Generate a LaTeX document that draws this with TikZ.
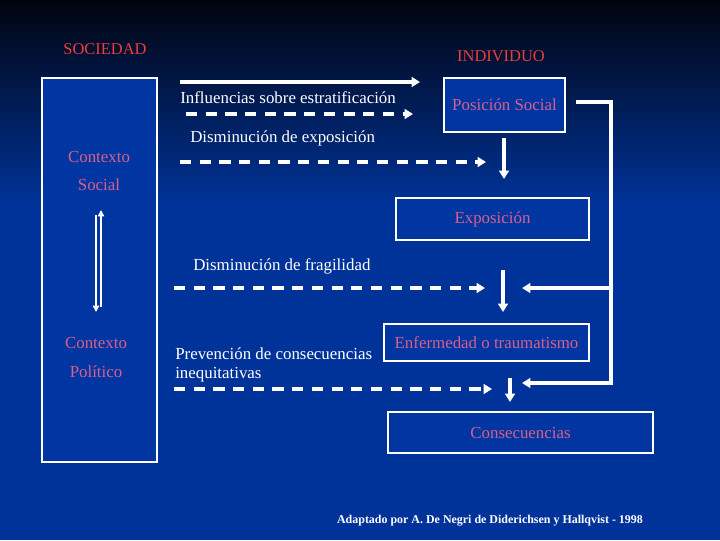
\documentclass[tikz,border=0pt]{standalone}
\usepackage{fontspec}
\setmainfont{Liberation Serif}
\usetikzlibrary{arrows.meta, positioning}
\definecolor{slidetop}{HTML}{01040F}
\definecolor{slideblue}{HTML}{003399}
\definecolor{boxblue}{HTML}{0035A2}
\definecolor{titlered}{HTML}{E8403A}
\definecolor{boxtext}{HTML}{D8608C}

\begin{document}
\begin{tikzpicture}[
    x=0.025cm,
    y=-0.025cm,
    every node/.style={
        font=\fontsize{12}{14}\selectfont
    },
    heading/.style={
        text=titlered,
        inner sep=0pt,
        font=\fontsize{11.7}{14}\selectfont
    },
    stagebox/.style={
        draw=white,
        line width=0.8pt,
        fill=boxblue,
        text=boxtext,
        inner sep=0pt
    },
    contextlabel/.style={
        text=boxtext,
        align=center,
        inner sep=0pt,
        font=\fontsize{12}{20.5}\selectfont
    },
    flowlabel/.style={
        text=white,
        anchor=west,
        align=left,
        inner sep=0pt
    },
    solidlink/.style={
        -{Triangle[length=6pt, width=7pt]},
        line width=2.6pt,
        white
    },
    dashedlink/.style={
        -{Triangle[length=6pt, width=7pt]},
        line width=2.8pt,
        dash pattern=on 8pt off 6pt,
        white
    },
    thinlink/.style={
        -{Triangle[length=4.5pt, width=4.5pt]},
        line width=1.1pt,
        white
    }
]
    \shade[top color=slidetop, bottom color=slideblue] (0,0) rectangle (720,205);
    \fill[slideblue] (0,204) rectangle (720,540);
    \useasboundingbox (0,0) rectangle (720,540);

    \node[heading] (sociedad) at (105,49) {SOCIEDAD};
    \node[heading] (individuo) at (501,56) {INDIVIDUO};

    \node[stagebox, minimum width=2.875cm, minimum height=9.6cm] (society) at (99.5,270) {};
    \node[contextlabel] (socialctx) at (99,171) {Contexto\\Social};
    \node[contextlabel] (politicalctx) at (96,357.5) {Contexto\\Político};

    \node[stagebox, minimum width=3.025cm, minimum height=1.35cm] (position) at (504.5,105) {Posición Social};
    \node[stagebox, minimum width=4.825cm, minimum height=1.05cm] (exposure) at (492.5,219) {Exposición};
    \node[stagebox, minimum width=5.125cm, minimum height=0.925cm] (illness) at (486.5,342.5) {Enfermedad o traumatismo};
    \node[stagebox, minimum width=6.625cm, minimum height=1.025cm] (consequence) at (520.5,432.5) {Consecuencias};

    \node[flowlabel] (stratification) at (180,98) {Influencias sobre estratificación};
    \node[flowlabel] (exposurecut) at (190,138) {Disminución de exposición};
    \node[flowlabel] (fragilitycut) at (193,266) {Disminución de fragilidad};
    \node[flowlabel] (prevention) at (175,365) {Prevención de consecuencias\\inequitativas};

    \node[text=white, font=\fontsize{8.5}{10}\selectfont\bfseries] (source) at (490,521)
        {Adaptado por A. De Negri de Diderichsen y Hallqvist - 1998};

    \coordinate (contextup) at (101,307);
    \coordinate (contextuptip) at (101,210);
    \coordinate (contextdown) at (96,215);
    \coordinate (contextdowntip) at (96,312);

    \coordinate (strat1) at (180,82);
    \coordinate (strat1tip) at (420,82);
    \coordinate (strat2) at (186,114);
    \coordinate (strat2tip) at (413,114);
    \coordinate (expo) at (180,162);
    \coordinate (expotip) at (486,162);
    \coordinate (frag) at (174,288);
    \coordinate (fragtip) at (485,288);
    \coordinate (prev) at (174,389);
    \coordinate (prevtip) at (492,389);

    \coordinate (step1) at (504,138);
    \coordinate (step1tip) at (504,179);
    \coordinate (step2) at (503,270);
    \coordinate (step2tip) at (503,312);
    \coordinate (step3) at (510,378);
    \coordinate (step3tip) at (510,402);

    \coordinate (feedstart) at (576,102);
    \coordinate (feedtop) at (611,102);
    \coordinate (feedmid) at (611,288);
    \coordinate (feedbottom) at (611,383);
    \coordinate (feedmidtip) at (522,288);
    \coordinate (feedbottomtip) at (522,383);

    \draw[thinlink] (contextup) -- (contextuptip);
    \draw[thinlink] (contextdown) -- (contextdowntip);

    \draw[solidlink] (strat1) -- (strat1tip);
    \draw[dashedlink] (strat2) -- (strat2tip);
    \draw[dashedlink] (expo) -- (expotip);
    \draw[dashedlink] (frag) -- (fragtip);
    \draw[dashedlink] (prev) -- (prevtip);

    \draw[solidlink] (step1) -- (step1tip);
    \draw[solidlink] (step2) -- (step2tip);
    \draw[solidlink] (step3) -- (step3tip);

    \draw[solidlink] (feedstart) -- (feedtop) -- (feedbottom) -- (feedbottomtip);
    \draw[solidlink] (feedmid) -- (feedmidtip);
\end{tikzpicture}
\end{document}
